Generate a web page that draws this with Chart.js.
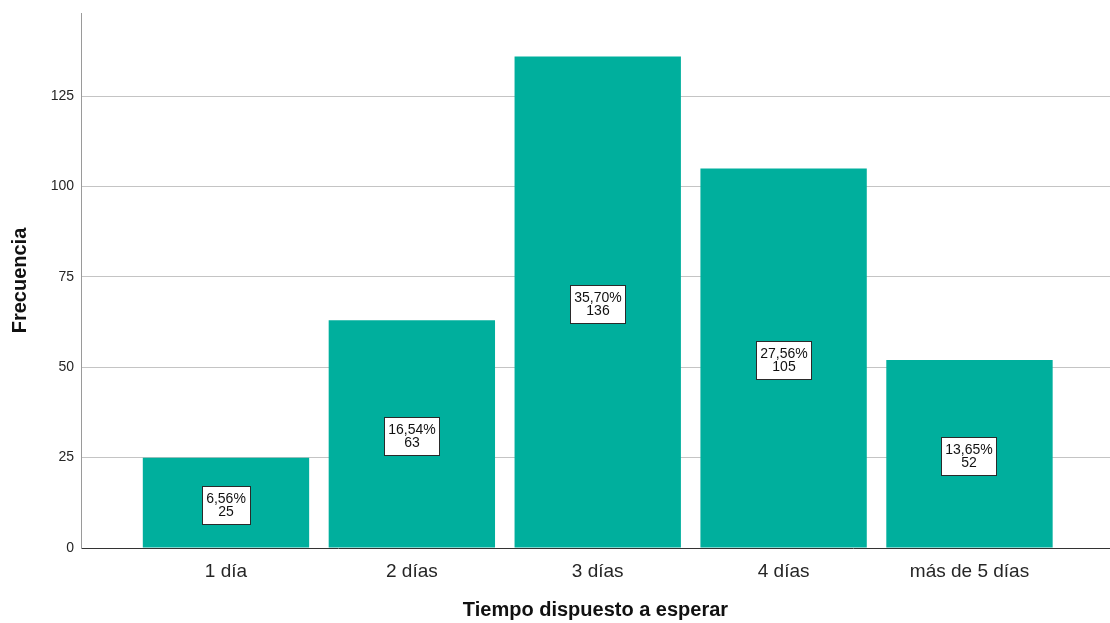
<!DOCTYPE html>
<html lang="es">
<head>
<meta charset="utf-8">
<title>Tiempo dispuesto a esperar</title>
<script src="https://cdn.jsdelivr.net/npm/chart.js@4.4.1/dist/chart.umd.min.js"></script>
<style>
    html, body { margin: 0; padding: 0; background: #fff; }
    #wrap { width: 1110px; height: 623px; position: relative; }
</style>
</head>
<body>
<div id="wrap"><canvas id="myChart"></canvas></div>
<script>
// Datos
const categorias = ['1 día', '2 días', '3 días', '4 días', 'más de 5 días'];
const frecuencias = [25, 63, 136, 105, 52];
const marcasY = [0, 25, 50, 75, 100, 125];

const total = frecuencias.reduce((a, b) => a + b, 0);
const FUENTE = "'Liberation Sans', Arial, sans-serif";

// Caja con porcentaje y frecuencia en el centro de cada barra
const etiquetasBarras = {
    id: 'etiquetasBarras',
    afterDatasetsDraw(chart) {
        const ctx = chart.ctx;
        const meta = chart.getDatasetMeta(0);
        ctx.save();
        ctx.font = '14px ' + FUENTE;
        ctx.textAlign = 'center';
        ctx.textBaseline = 'middle';
        meta.data.forEach((bar, i) => {
            const v = frecuencias[i];
            const pct = (v / total * 100).toFixed(2).replace('.', ',') + '%';
            const w = Math.round(Math.max(ctx.measureText(pct).width, ctx.measureText(String(v)).width) + 9);
            const h = 39;
            const cx = Math.round(bar.x);
            const cy = Math.round((bar.y + bar.base) / 2) + 2;
            const x0 = Math.round(cx - w / 2);
            const y0 = Math.round(cy - h / 2);
            ctx.fillStyle = '#ffffff';
            ctx.fillRect(x0, y0, w, h);
            ctx.strokeStyle = '#2a2a2a';
            ctx.lineWidth = 1;
            ctx.strokeRect(x0 + 0.5, y0 + 0.5, w - 1, h - 1);
            ctx.fillStyle = '#111111';
            ctx.fillText(pct, cx, cy - 6);
            ctx.fillText(String(v), cx, cy + 7);
        });
        ctx.restore();
    }
};

const ctx = document.getElementById('myChart').getContext('2d');
new Chart(ctx, {
    type: 'bar',
    data: {
        datasets: [{
            data: frecuencias.map((v, i) => ({ x: i, y: v })),
            backgroundColor: '#00af9d',
            borderWidth: 0,
            barPercentage: 0.895,
            categoryPercentage: 1
        }]
    },
    options: {
        responsive: true,
        maintainAspectRatio: false,
        animation: false,
        layout: { padding: { top: 13, right: 0, bottom: 0, left: 0 } },
        plugins: {
            legend: { display: false },
            tooltip: { enabled: false }
        },
        scales: {
            x: {
                type: 'linear',
                min: -0.78,
                max: 4.756,
                offset: false,
                grid: { display: false, offset: false },
                border: { display: true, color: '#333333', width: 1 },
                afterBuildTicks(scale) {
                    scale.ticks = categorias.map((c, i) => ({ value: i }));
                },
                afterFit(scale) { scale.height = 75; },
                ticks: {
                    autoSkip: false,
                    maxRotation: 0,
                    padding: 4,
                    color: '#262626',
                    font: { family: FUENTE, size: 19 },
                    callback: (value) => categorias[value] || ''
                },
                title: {
                    display: true,
                    text: 'Tiempo dispuesto a esperar',
                    color: '#111111',
                    font: { family: FUENTE, size: 20, weight: 'bold' },
                    padding: { top: 0, bottom: 1 }
                }
            },
            y: {
                min: 0,
                max: 148,
                afterBuildTicks(scale) {
                    scale.ticks = marcasY.map(v => ({ value: v }));
                },
                afterFit(scale) {
                    scale.width = 81;
                    scale.paddingTop = 0;
                },
                grid: {
                    drawTicks: false,
                    color: (c) => (c.tick && c.tick.value === 0) ? 'rgba(0,0,0,0)' : '#c4c4c4',
                    lineWidth: 1
                },
                border: { display: true, color: '#9a9a9a', width: 1 },
                ticks: {
                    padding: 7,
                    color: '#262626',
                    font: { family: FUENTE, size: 14 }
                },
                title: {
                    display: true,
                    text: 'Frecuencia',
                    color: '#111111',
                    font: { family: FUENTE, size: 20, weight: 'bold' },
                    padding: { top: 8, bottom: 0 }
                }
            }
        }
    },
    plugins: [etiquetasBarras]
});
</script>
</body>
</html>
